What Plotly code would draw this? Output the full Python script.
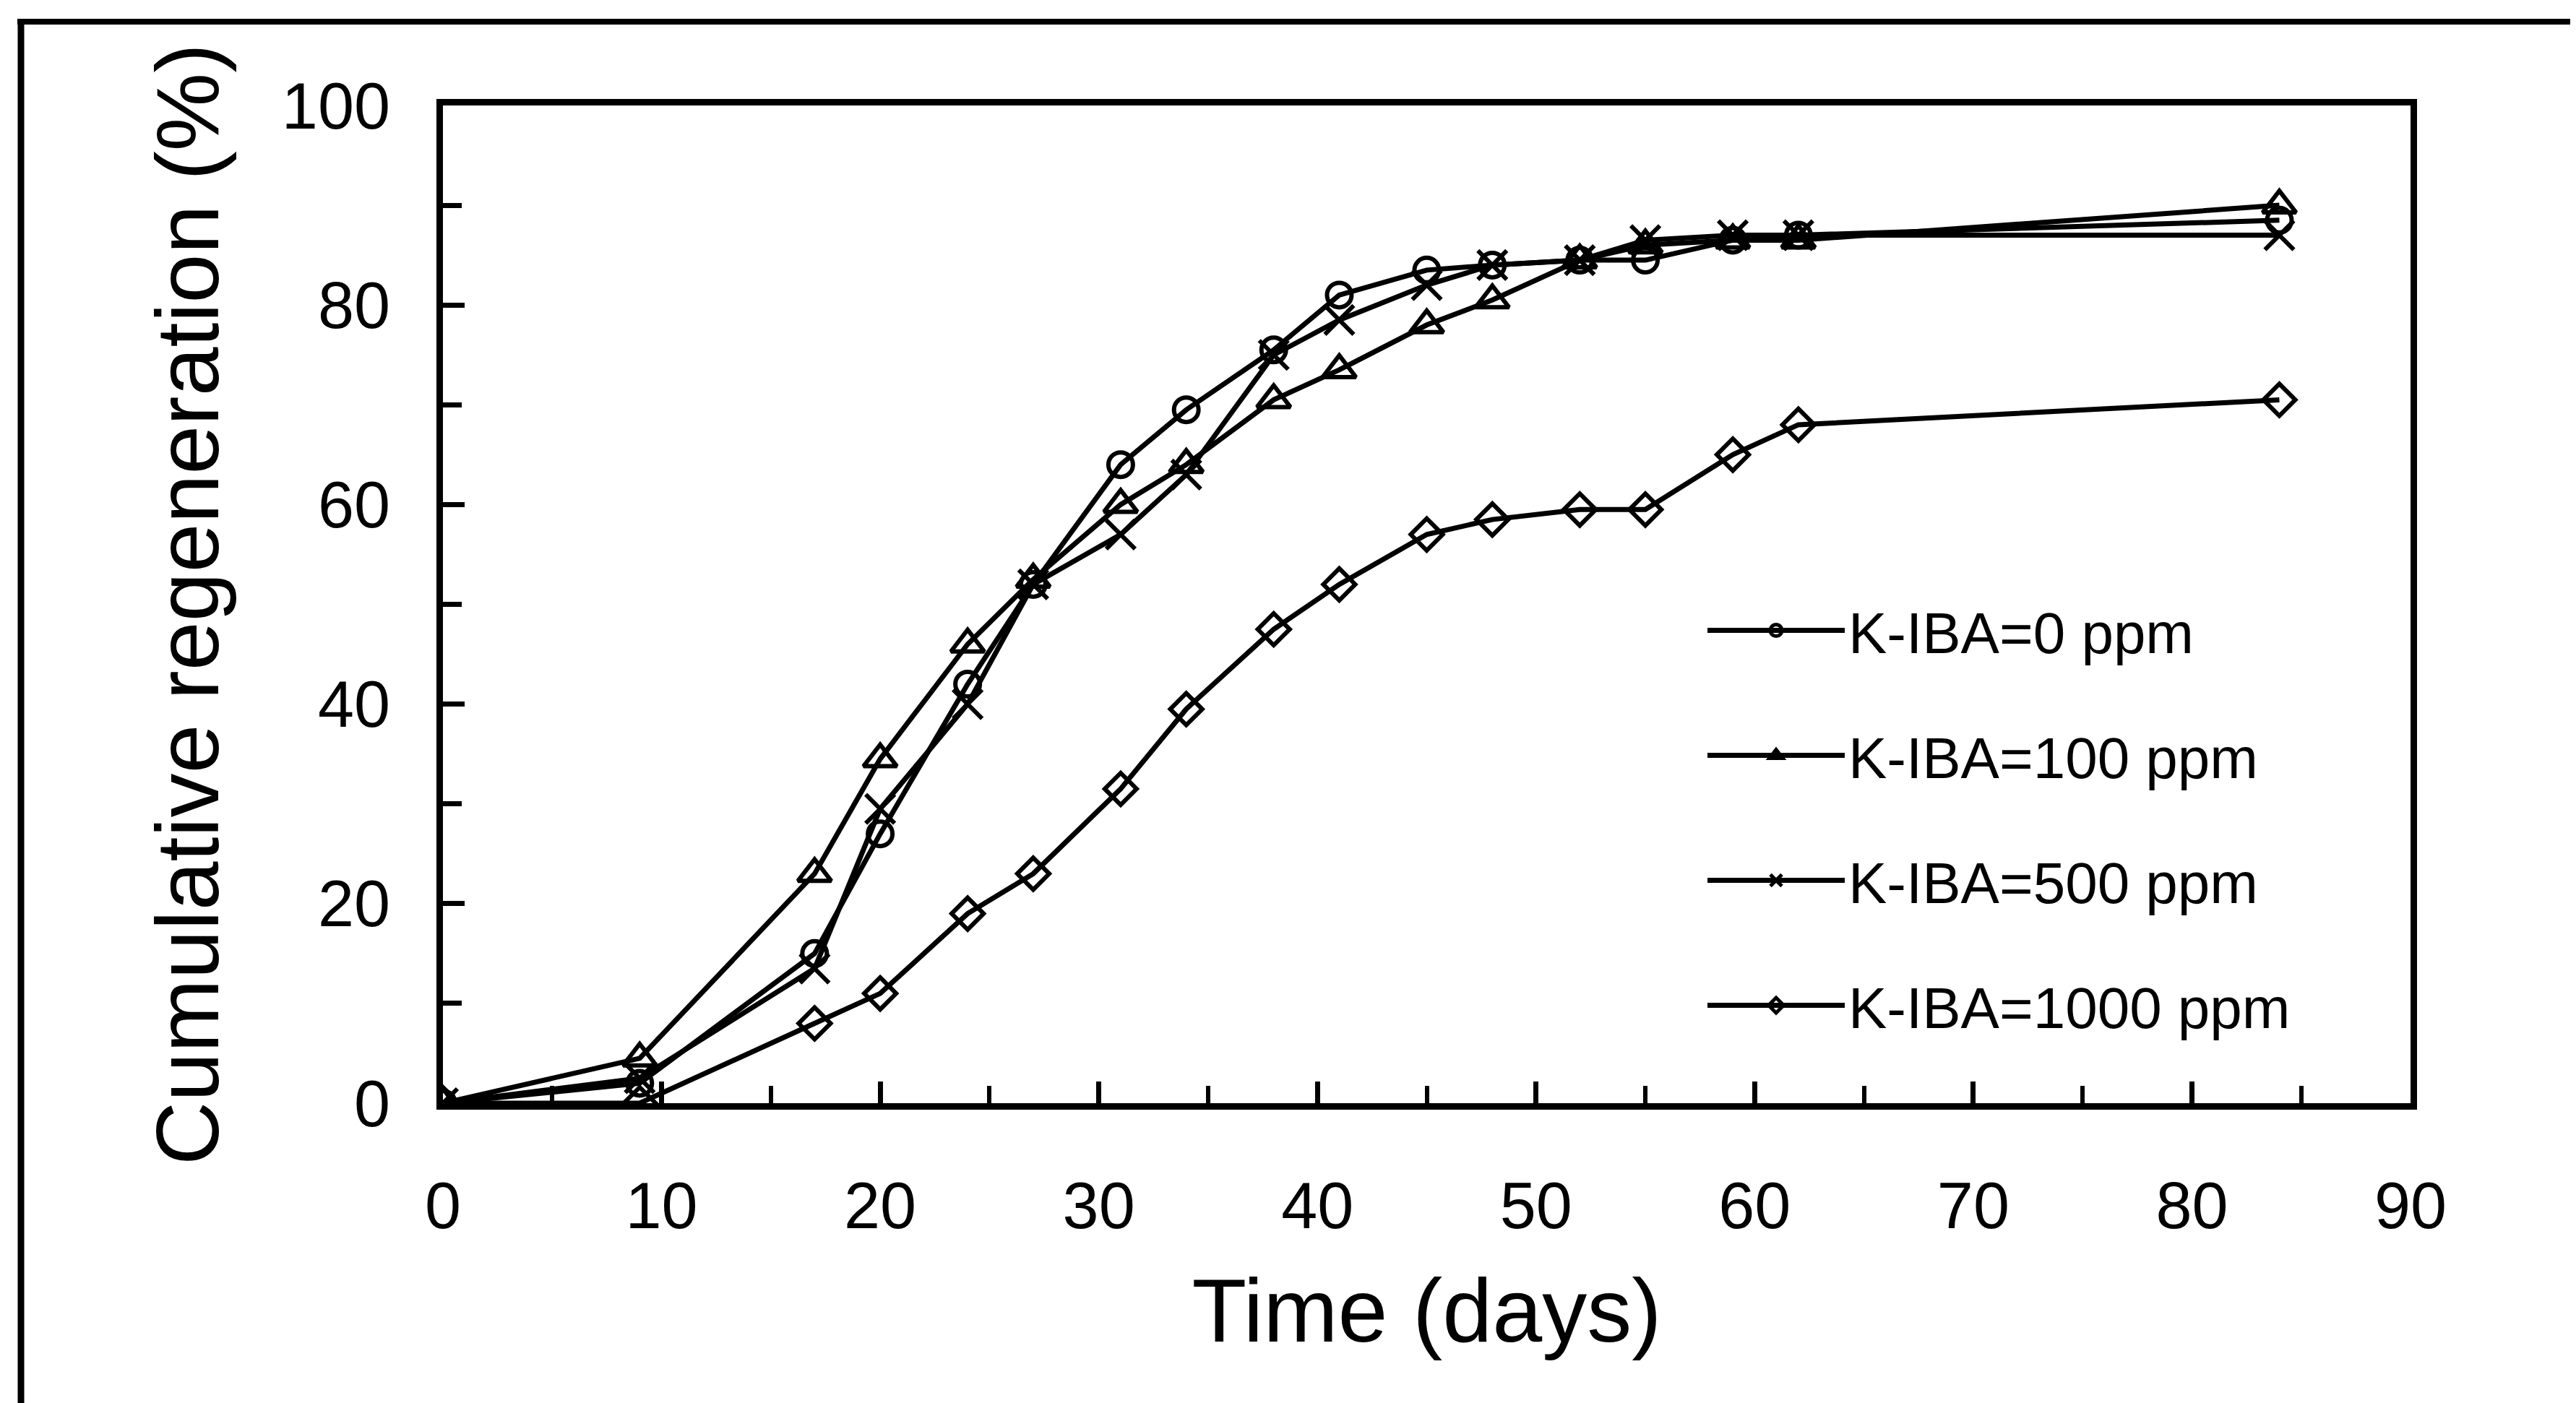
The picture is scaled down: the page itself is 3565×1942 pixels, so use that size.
import plotly.graph_objects as go

days = [0, 9, 17, 20, 24, 27, 31, 34, 38, 41, 45, 48, 52, 55, 59, 62, 84]
ppm0 = [0, 2, 15, 27, 42, 52, 64, 69.5, 75.5, 81, 83.5, 84, 84.5, 84.5, 86.5, 87, 88.5]
ppm100 = [0, 4.5, 23, 34.5, 46, 52.5, 60, 64, 70.5, 73.5, 78, 80.5, 84.5, 86, 86.5, 86.5, 90]
ppm500 = [0, 2.5, 13.5, 29.5, 40, 52, 57, 63, 75, 78.5, 82, 84, 84.5, 86.5, 87, 87, 87]
ppm1000 = [0, 0, 8, 11, 19, 23, 31.5, 39.5, 47.5, 52, 57, 58.5, 59.5, 59.5, 65, 68, 70.5]

series_names = ["K-IBA=0 ppm", "K-IBA=100 ppm", "K-IBA=500 ppm", "K-IBA=1000 ppm"]
series_values = [ppm0, ppm100, ppm500, ppm1000]
symbols = ["circle-open", "triangle-up-open", "x-thin-open", "diamond-open"]
sizes = [34, 40, 40, 34]

x_ticks = [0, 10, 20, 30, 40, 50, 60, 70, 80, 90]
y_ticks = [0, 20, 40, 60, 80, 100]

FONT = "Liberation Sans, Arial, sans-serif"

fig = go.Figure()
for i, (name, vals, sym, sz) in enumerate(zip(series_names, series_values, symbols, sizes)):
    fig.add_trace(go.Scatter(
        x=days, y=vals, name=name, mode="lines+markers",
        line=dict(color="black", width=7),
        marker=dict(symbol=sym, size=sz, color="black", line=dict(color="black", width=6)),
        legendgroup=str(i),
    ))

W, H = 3565, 1942
L, R, T, B = 605, 3328, 138, 1519

axis_common = dict(
    showline=True, linecolor="black", linewidth=9, mirror=True,
    ticks="inside", ticklen=30, tickwidth=7, tickcolor="black",
    showgrid=False, zeroline=False,
    tickfont=dict(family=FONT, size=90, color="black"),
)

fig.update_xaxes(
    range=[0, 90], tickvals=x_ticks, ticktext=[str(v) for v in x_ticks],
    minor=dict(dtick=5, ticks="inside", ticklen=24, tickwidth=6, tickcolor="black"),
    ticklabelstandoff=56,
    title=dict(text="Time (days)", font=dict(family=FONT, size=124, color="black"), standoff=56),
    **axis_common,
)
fig.update_yaxes(
    range=[0, 100], tickvals=y_ticks, ticktext=[str(v) for v in y_ticks],
    minor=dict(dtick=10, ticks="inside", ticklen=26, tickwidth=7, tickcolor="black"),
    ticklabelstandoff=46,
    title=dict(text="Cumulative regeneration (%)", font=dict(family=FONT, size=122, color="black"), standoff=50),
    **axis_common,
)

pw, ph = R - L, B - T
def px2x(px):
    return (px - L) / pw
def py2y(py):
    return (B - py) / ph

shapes = [
    dict(type="line", xref="paper", yref="paper", x0=px2x(16), x1=px2x(3570), y0=py2y(22), y1=py2y(22), line=dict(color="black", width=8)),
    dict(type="line", xref="paper", yref="paper", x0=px2x(21), x1=px2x(21), y0=py2y(18), y1=py2y(1960), line=dict(color="black", width=9)),
    dict(type="line", xref="paper", yref="paper", x0=px2x(3562), x1=px2x(3562), y0=py2y(18), y1=py2y(1960), line=dict(color="black", width=2)),
]

fig.update_layout(
    width=W, height=H,
    margin=dict(l=L, r=W - R, t=T, b=H - B, autoexpand=False),
    paper_bgcolor="white", plot_bgcolor="white",
    showlegend=True,
    legend=dict(
        x=px2x(2350), y=py2y(806), xanchor="left", yanchor="top",
        font=dict(family=FONT, size=80, color="black"),
        bgcolor="rgba(0,0,0,0)", borderwidth=0,
        itemwidth=190, tracegroupgap=66,
        itemsizing="trace",
    ),
    shapes=shapes,
)

fig.write_html("out.html")
